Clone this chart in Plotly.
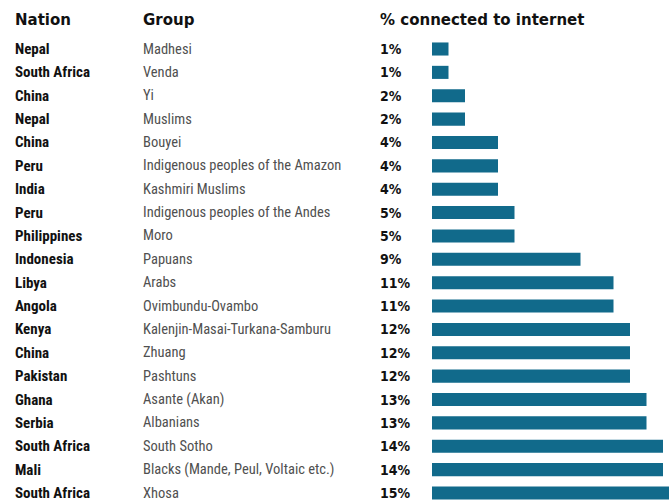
import plotly.graph_objects as go

nations = ["Nepal", "South Africa", "China", "Nepal", "China", "Peru", "India", "Peru",
           "Philippines", "Indonesia", "Libya", "Angola", "Kenya", "China", "Pakistan",
           "Ghana", "Serbia", "South Africa", "Mali", "South Africa"]
groups = ["Madhesi", "Venda", "Yi", "Muslims", "Bouyei", "Indigenous peoples of the Amazon",
          "Kashmiri Muslims", "Indigenous peoples of the Andes", "Moro", "Papuans", "Arabs",
          "Ovimbundu-Ovambo", "Kalenjin-Masai-Turkana-Samburu", "Zhuang", "Pashtuns",
          "Asante (Akan)", "Albanians", "South Sotho", "Blacks (Mande, Peul, Voltaic etc.)", "Xhosa"]
pct = [1, 1, 2, 2, 4, 4, 4, 5, 5, 9, 11, 11, 12, 12, 12, 13, 13, 14, 14, 15]
headers = ["Nation", "Group", "% connected to internet"]

W, H = 669, 503
BAR_LEFT = 432
PX_PER_PCT = 16.5
ROW0, ROWN = 49, 493
step = (ROWN - ROW0) / (len(pct) - 1)
COL_X = [13, 141, 378]

HEAD_FONT = "DejaVu Sans, sans-serif"
NARROW_FONT = "Noto Sans Condensed, Roboto Condensed, Open Sans Condensed, Liberation Sans Narrow, DejaVu Sans Condensed, sans-serif"
PCT_FONT = "DejaVu Sans Condensed, sans-serif"
BAR_COLOR = "#116a8b"

rows = list(range(len(pct)))

fig = go.Figure()
fig.add_trace(go.Bar(
    x=pct, y=rows, orientation="h", width=0.56,
    marker=dict(color=BAR_COLOR, line=dict(width=0)),
    hoverinfo="skip",
))

ann = []
hdr_y = (20 - ROW0) / step
for hx, h in zip(COL_X, headers):
    ann.append(dict(x=hx / W, y=hdr_y, xref="paper", yref="y", text="<b>%s</b>" % h,
                    showarrow=False, xanchor="left", yanchor="middle",
                    font=dict(family=HEAD_FONT, size=15, color="#111111")))
for i, (n, g, p) in enumerate(zip(nations, groups, pct)):
    ann.append(dict(x=COL_X[0] / W, y=i, xref="paper", yref="y", text="<b>%s</b>" % n,
                    showarrow=False, xanchor="left", yanchor="middle",
                    font=dict(family=NARROW_FONT, size=15, color="#111111")))
    ann.append(dict(x=COL_X[1] / W, y=i, xref="paper", yref="y", text=g,
                    showarrow=False, xanchor="left", yanchor="middle",
                    font=dict(family=NARROW_FONT, size=14.5, color="#505050")))
    ann.append(dict(x=COL_X[2] / W, y=i, xref="paper", yref="y", text="<b>%d%%</b>" % p,
                    showarrow=False, xanchor="left", yanchor="middle",
                    font=dict(family=PCT_FONT, size=14, color="#111111")))

fig.update_layout(
    width=W, height=H,
    margin=dict(l=0, r=0, t=0, b=0),
    paper_bgcolor="white", plot_bgcolor="white",
    showlegend=False,
    xaxis=dict(domain=[BAR_LEFT / W, 1], range=[0, (W - BAR_LEFT) / PX_PER_PCT],
               visible=False, fixedrange=True),
    yaxis=dict(range=[len(pct) - 1 + (H - ROWN) / step, -ROW0 / step],
               visible=False, fixedrange=True),
    annotations=ann,
)

fig.write_html("out.html", config={"displayModeBar": False},
               post_script="document.body.style.margin='0px';")
